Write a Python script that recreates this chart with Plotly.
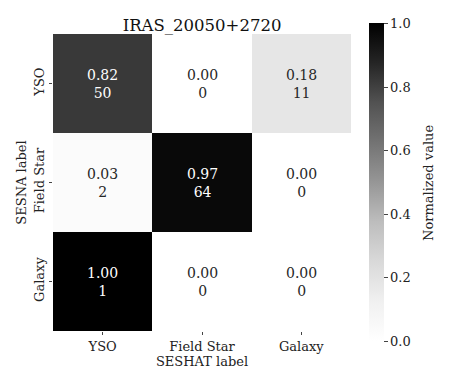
import plotly.graph_objects as go

title = "IRAS_20050+2720"
x_labels = ["YSO", "Field Star", "Galaxy"]
y_labels = ["YSO", "Field Star", "Galaxy"]
norm_values = [
    [0.82, 0.00, 0.18],
    [0.03, 0.97, 0.00],
    [1.00, 0.00, 0.00],
]
counts = [
    [50, 0, 11],
    [2, 64, 0],
    [1, 0, 0],
]
cbar_ticks = [0.0, 0.2, 0.4, 0.6, 0.8, 1.0]
cbar_title = "Normalized value"

greys = [
    [0.0, "#ffffff"], [0.125, "#f0f0f0"], [0.25, "#d9d9d9"], [0.375, "#bdbdbd"],
    [0.5, "#969696"], [0.625, "#737373"], [0.75, "#525252"], [0.875, "#252525"],
    [1.0, "#000000"],
]

FONT = "DejaVu Serif"

fig = go.Figure()
fig.add_trace(go.Heatmap(
    z=norm_values, x=x_labels, y=y_labels,
    colorscale=greys, zmin=0, zmax=1, xgap=0, ygap=0,
    hoverinfo="skip",
    colorbar=dict(
        thickness=15, len=1.07, lenmode="fraction", x=1.062, xanchor="left",
        y=0.5, yanchor="middle", outlinewidth=0, xpad=0, ypad=0,
        tickvals=cbar_ticks, ticktext=[f"{t:.1f}" for t in cbar_ticks],
        ticks="outside", ticklen=4, tickcolor="#444",
        tickfont=dict(family=FONT, size=13, color="#222"),
    ),
))

for i, yl in enumerate(y_labels):
    for j, xl in enumerate(x_labels):
        v = norm_values[i][j]
        col = "white" if v > 0.5 else "#262626"
        fig.add_annotation(x=xl, y=yl, text=f"{v:.2f}<br>{counts[i][j]}",
                           showarrow=False,
                           font=dict(family=FONT, size=14, color=col))

fig.add_annotation(xref="paper", yref="paper", x=1.26, y=0.5,
                   xanchor="center", yanchor="middle", textangle=-90,
                   text=cbar_title, showarrow=False,
                   font=dict(family=FONT, size=13, color="#222"))

fig.update_layout(
    width=441, height=377,
    margin=dict(l=45, r=98, t=26, b=54, autoexpand=False),
    paper_bgcolor="white", plot_bgcolor="white",
    title=dict(text=title, x=0.44, xanchor="center", y=0.955, yanchor="middle",
               automargin=False,
               font=dict(family=FONT, size=16.5, color="#111")),
    font=dict(family=FONT, size=13, color="#222"),
    xaxis=dict(title=dict(text="SESHAT label", standoff=2,
                          font=dict(family=FONT, size=13, color="#222")),
               automargin=False,
               ticks="outside", ticklen=3, tickcolor="#444", showgrid=False,
               zeroline=False, showline=False,
               tickfont=dict(family=FONT, size=13, color="#222")),
    yaxis=dict(title=dict(text="SESNA label", standoff=2,
                          font=dict(family=FONT, size=13, color="#222")),
               automargin=False,
               autorange="reversed", tickangle=-90,
               ticks="outside", ticklen=3, tickcolor="#444", showgrid=False,
               zeroline=False, showline=False,
               tickfont=dict(family=FONT, size=13, color="#222")),
)

fig.write_html("out.html")
